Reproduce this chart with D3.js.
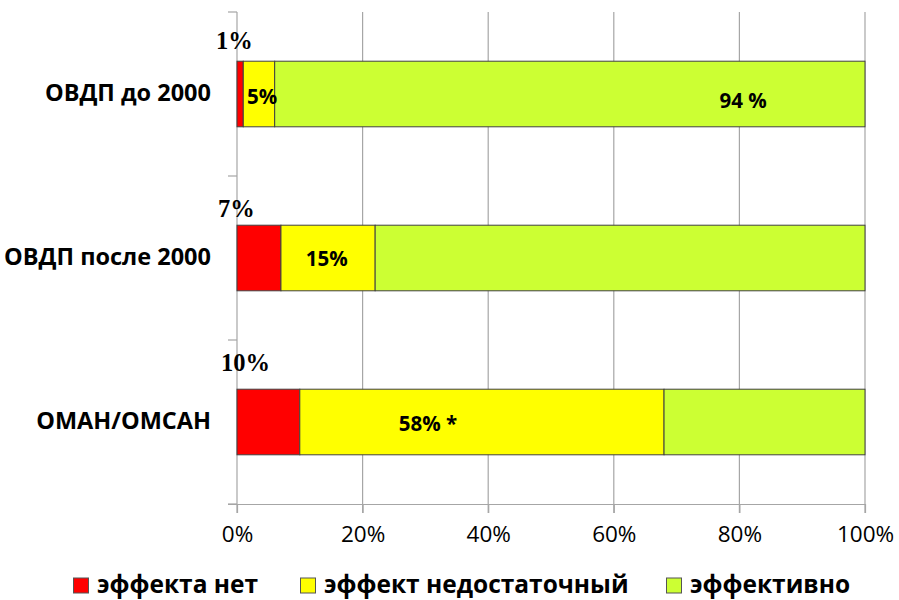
<!DOCTYPE html>
<html>
<head>
<meta charset="utf-8">
<script src="https://cdn.jsdelivr.net/npm/d3@7"></script>
<style>
  html, body { margin: 0; padding: 0; background: #fff; }
  svg { display: block; }
</style>
</head>
<body>
<svg id="chart" width="899" height="600"></svg>
<script>
// Treatment outcome shares per group, percent
const categories = ["ОВДП до 2000", "ОВДП после 2000", "ОМАН/ОМСАН"];
const seriesNames = ["эффекта нет", "эффект недостаточный", "эффективно"];
const noEffect = [1, 7, 10];
const insufficient = [5, 15, 58];
const effective = [94, 78, 32];
const tickValues = [0, 20, 40, 60, 80, 100];

// Value labels: above-bar label for "no effect", and inner labels
const topLabels = ["1%", "7%", "10%"];
const innerLabels = [
  { row: 0, text: "5%" },
  { row: 0, text: "94 %" },
  { row: 1, text: "15%" },
  { row: 2, text: "58% *" }
];
// where inside each bar the inner labels sit (axis units)
const innerLabelAt = [4.0, 80.6, 14.3, 30.4];
const innerLabelDy = [5, 9, 3, 4];
const topLabelDx = [-21, -19, -16];
const topLabelDy = [-12, -8, -18];

const colors = ["#ff0000", "#ffff00", "#ccff33"];

const svg = d3.select("#chart");
const margin = { left: 237, top: 12, right: 34, bottom: 96 };
const W = 899, H = 600;
const x0 = margin.left, x1 = W - margin.right;
const y0 = margin.top, y1 = H - margin.bottom;

const x = d3.scaleLinear().domain([0, 100]).range([x0, x1]);
const y = d3.scaleBand().domain(categories).range([y0, y1])
  .paddingInner(0.6).paddingOuter(0.3);

const rows = categories.map((c, i) => ({ cat: c, vals: [noEffect[i], insufficient[i], effective[i]] }));
const stackData = rows.map(r => ({ cat: r.cat, s0: r.vals[0], s1: r.vals[1], s2: r.vals[2] }));
const stack = d3.stack().keys(["s0", "s1", "s2"]);
const layers = stack(stackData);

// vertical gridlines (extend below the axis as tick marks)
svg.append("g").selectAll("line").data(tickValues.filter(t => t > 0)).join("line")
  .attr("x1", d => x(d)).attr("x2", d => x(d))
  .attr("y1", y0).attr("y2", y1 + 9)
  .attr("stroke", "#a6a6a6").attr("stroke-width", 1.2);

// bottom axis
const xAxis = d3.axisBottom(x).tickValues(tickValues).tickFormat(d => d + "%").tickSize(9).tickSizeOuter(0);
const gx = svg.append("g").attr("transform", `translate(0,${y1})`).call(xAxis);
gx.select(".domain").attr("d", `M${x0 - 9},0.5H${x1}`).attr("stroke", "#a6a6a6").attr("stroke-width", 1.2);
gx.selectAll(".tick line").attr("stroke", "#a6a6a6").attr("stroke-width", 1.2);
gx.selectAll(".tick text")
  .attr("y", 22).attr("dy", "0.71em")
  .attr("font-family", "'Open Sans', sans-serif").attr("font-size", 22.5).attr("fill", "#000");

// left axis with ticks at band boundaries
const boundaries = d3.range(categories.length + 1).map(i => y0 + i * y.step());
const gy = svg.append("g");
gy.append("line").attr("x1", x0).attr("x2", x0).attr("y1", y0).attr("y2", y1 + 9)
  .attr("stroke", "#a6a6a6").attr("stroke-width", 1.2);
gy.selectAll("line.tk").data(boundaries).join("line").attr("class", "tk")
  .attr("x1", x0 - 9).attr("x2", x0).attr("y1", d => d).attr("y2", d => d)
  .attr("stroke", "#a6a6a6").attr("stroke-width", 1.2);
gy.selectAll("text").data(categories).join("text")
  .attr("x", x0 - 26).attr("y", d => y(d) + y.bandwidth() / 2 + 1)
  .attr("text-anchor", "end").attr("dominant-baseline", "middle")
  .attr("font-family", "'Open Sans', sans-serif").attr("font-weight", "bold").attr("font-size", 23.5)
  .attr("fill", "#000").text(d => d);

// stacked bars
svg.append("g").selectAll("g").data(layers).join("g")
  .attr("fill", (d, i) => colors[i])
  .selectAll("rect").data(d => d).join("rect")
  .attr("x", d => x(d[0])).attr("width", d => x(d[1]) - x(d[0]))
  .attr("y", d => y(d.data.cat)).attr("height", y.bandwidth())
  .attr("stroke", "#404040").attr("stroke-width", 1);

// labels above the bars
svg.append("g").selectAll("text").data(topLabels).join("text")
  .attr("x", (d, i) => x(0) + topLabelDx[i]).attr("y", (d, i) => y(categories[i]) + topLabelDy[i])
  .attr("font-family", "'Liberation Serif', 'Times New Roman', serif")
  .attr("font-weight", "bold").attr("font-size", 24.5).attr("fill", "#000")
  .text(d => d);

// labels inside the bars
svg.append("g").selectAll("text").data(innerLabels).join("text")
  .attr("x", (d, i) => x(innerLabelAt[i]))
  .attr("y", (d, i) => y(categories[d.row]) + y.bandwidth() / 2 + innerLabelDy[i])
  .attr("text-anchor", "middle").attr("dominant-baseline", "middle")
  .attr("font-family", "'Open Sans', sans-serif").attr("font-weight", "bold").attr("font-size", 20.5)
  .attr("fill", "#000").text(d => d.text);

// legend
const legendX = [73, 300, 666];
const lg = svg.append("g").selectAll("g").data(seriesNames).join("g")
  .attr("transform", (d, i) => `translate(${legendX[i]},585.5)`);
lg.append("rect").attr("x", 0.5).attr("y", -7.5).attr("width", 15).attr("height", 15)
  .attr("fill", (d, i) => colors[i]).attr("stroke", "#555").attr("stroke-width", 1);
lg.append("text").attr("x", 24).attr("y", 1).attr("dominant-baseline", "middle")
  .attr("font-family", "'Open Sans', sans-serif").attr("font-weight", "bold").attr("font-size", 24.5)
  .attr("fill", "#000").text(d => d);
</script>
</body>
</html>
